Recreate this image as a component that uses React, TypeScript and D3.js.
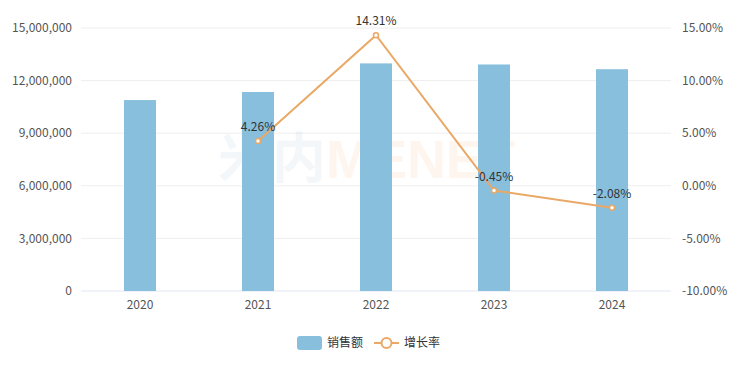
import React from "react";
import * as d3 from "d3";

const years = ["2020", "2021", "2022", "2023", "2024"];
const sales = [10890000, 11350000, 12980000, 12920000, 12650000];
const growth = [null, 4.26, 14.31, -0.45, -2.08];
const leftTicks = [0, 3000000, 6000000, 9000000, 12000000, 15000000];
const rightTicks = [-10, -5, 0, 5, 10, 15];

const W = 740, H = 368;
const M = { left: 81, right: 69, top: 28, bottom: 77 };
const FONT = "'Microsoft YaHei', 'Noto Sans CJK SC', 'Noto Sans', sans-serif";
const BAR = "#88bfdd";
const LINE = "#e9a866";

export default function App() {
  const x = d3.scaleBand().domain(years).range([M.left, W - M.right]);
  const yL = d3.scaleLinear().domain([0, 15000000]).range([H - M.bottom, M.top]);
  const yR = d3.scaleLinear().domain([-10, 15]).range([H - M.bottom, M.top]);
  const barW = 32;
  const fmt = d3.format(",");
  const pts = years
    .map((y, i) => ({ y, v: growth[i] }))
    .filter((d) => d.v !== null) as { y: string; v: number }[];
  const line = d3
    .line<{ y: string; v: number }>()
    .x((d) => x(d.y)! + x.bandwidth() / 2)
    .y((d) => yR(d.v));

  return (
    <svg width={W} height={H} style={{ position: "absolute", left: 0, top: 0 }} fontFamily={FONT}>
      <rect width={W} height={H} fill="#fff" />
      {leftTicks.map((t) => (
        <g key={t}>
          <line x1={M.left} x2={W - M.right} y1={yL(t)} y2={yL(t)} stroke={t === 0 ? "#e0e6f1" : "#eeeeee"} />
          <text x={M.left - 9} y={yL(t)} dy="0.35em" textAnchor="end" fontSize={12} fill="#555">
            {fmt(t)}
          </text>
        </g>
      ))}
      {rightTicks.map((t) => (
        <text key={t} x={W - M.right + 11} y={yR(t)} dy="0.35em" textAnchor="start" fontSize={12} fill="#555">
          {t.toFixed(2) + "%"}
        </text>
      ))}
      <text x={218} y={178} fontSize={54} fontWeight="bold" fontFamily="Arial, 'Noto Sans CJK SC', sans-serif">
        <tspan fill="#a9c6da" opacity={0.12}>米内</tspan>
        <tspan fill="#f2b27a" opacity={0.12}>MENET</tspan>
      </text>
      {years.map((y, i) => (
        <g key={y}>
          <rect x={x(y)! + x.bandwidth() / 2 - barW / 2} y={yL(sales[i])} width={barW} height={yL(0) - yL(sales[i])} fill={BAR} />
          <text x={x(y)! + x.bandwidth() / 2} y={H - M.bottom + 18} textAnchor="middle" fontSize={12} fill="#555">
            {y}
          </text>
        </g>
      ))}
      <path d={line(pts)!} fill="none" stroke={LINE} strokeWidth={2} />
      {pts.map((d) => (
        <g key={d.y}>
          <circle cx={x(d.y)! + x.bandwidth() / 2} cy={yR(d.v)} r={2.5} fill="#fff" stroke={LINE} strokeWidth={1.5} />
          <text x={x(d.y)! + x.bandwidth() / 2} y={yR(d.v) - 10} textAnchor="middle" fontSize={12} fill="#333">
            {d.v.toFixed(2) + "%"}
          </text>
        </g>
      ))}
      <g>
        <rect x={297} y={336} width={25} height={14} rx={3} fill={BAR} />
        <text x={327} y={343} dy="0.35em" fontSize={12} fill="#333">销售额</text>
        <line x1={374} x2={399} y1={343} y2={343} stroke={LINE} strokeWidth={2} />
        <circle cx={386.5} cy={343} r={5} fill="#fff" stroke={LINE} strokeWidth={2} />
        <text x={404} y={343} dy="0.35em" fontSize={12} fill="#333">增长率</text>
      </g>
    </svg>
  );
}
